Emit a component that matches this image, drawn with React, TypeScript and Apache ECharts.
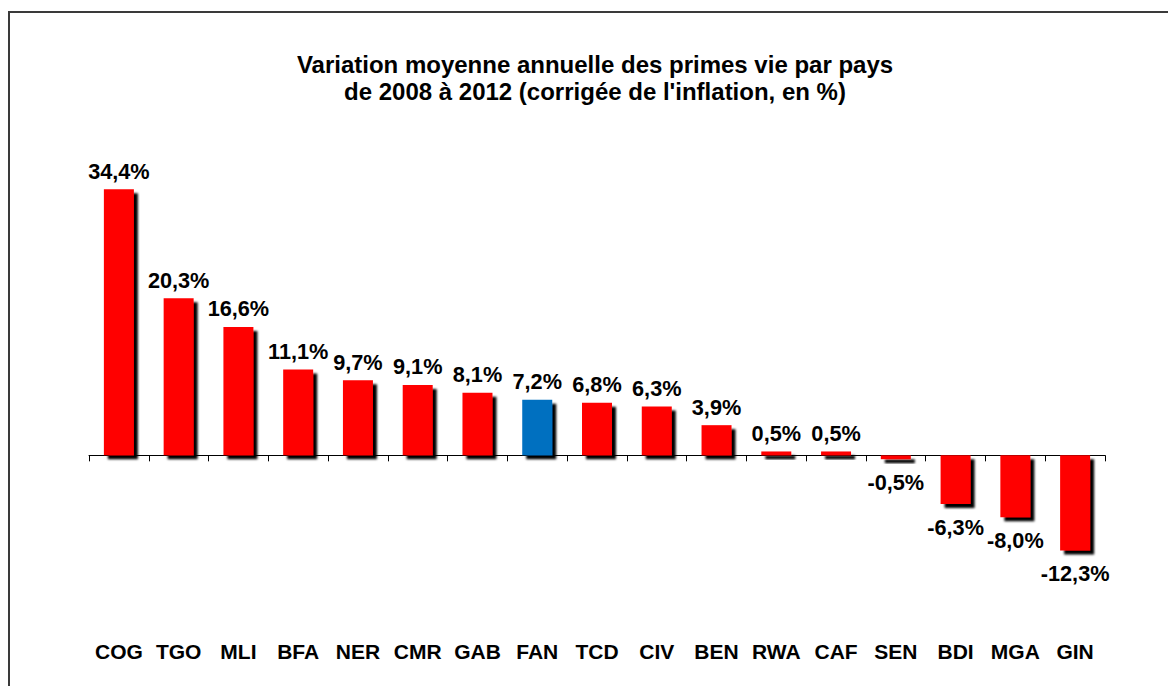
import React, { useEffect, useRef } from "react";
import * as echarts from "echarts";

const categories = ["COG", "TGO", "MLI", "BFA", "NER", "CMR", "GAB", "FAN", "TCD", "CIV", "BEN", "RWA", "CAF", "SEN", "BDI", "MGA", "GIN"];
const values = [34.4, 20.3, 16.6, 11.1, 9.7, 9.1, 8.1, 7.2, 6.8, 6.3, 3.9, 0.5, 0.5, -0.5, -6.3, -8.0, -12.3];
const highlighted = ["FAN"];
const titleLines = ["Variation moyenne annuelle des primes vie par pays", "de 2008 à 2012 (corrigée de l'inflation, en %)"];

const FONT = 'Arial, "Liberation Sans", sans-serif';

export default function App() {
  const ref = useRef<HTMLDivElement>(null);
  useEffect(() => {
    if (!ref.current) return;
    const chart = echarts.init(ref.current, null, { renderer: "svg" });
    const data = values.map((v, i) => ({
      value: v,
      itemStyle: { color: highlighted.includes(categories[i]) ? "#0070C0" : "#FF0000" },
      label: v < 0 ? { position: "bottom", distance: 12 } : { position: "top", distance: 7 },
    }));
    chart.setOption({
      animation: false,
      backgroundColor: "#ffffff",
      title: {
        text: titleLines.join("\n"),
        left: 595,
        top: 51,
        textAlign: "center",
        padding: 0,
        textStyle: { fontFamily: FONT, fontSize: 24, fontWeight: "bold", color: "#000", lineHeight: 27 },
      },
      graphic: [
        {
          type: "rect",
          shape: { x: 9, y: 12, width: 1200, height: 700 },
          style: { fill: "none", stroke: "#3a3a3a", lineWidth: 2 },
          silent: true,
        },
      ],
      grid: { left: 89, right: 63, top: 146, bottom: 76, containLabel: false },
      xAxis: [
        {
          type: "category",
          data: categories,
          position: "bottom",
          axisLine: { onZero: true, lineStyle: { color: "#000", width: 1 } },
          axisTick: { show: true, length: 6, lineStyle: { color: "#000" } },
          axisLabel: { show: false },
          splitLine: { show: false },
        },
        {
          type: "category",
          data: categories,
          position: "bottom",
          axisLine: { show: false, onZero: false },
          axisTick: { show: false },
          axisLabel: { show: true, margin: 31, fontFamily: FONT, fontSize: 21, fontWeight: "bold", color: "#000", interval: 0 },
          splitLine: { show: false },
        },
      ],
      yAxis: {
        type: "value",
        min: -20,
        max: 40,
        interval: 10,
        show: false,
        splitLine: { show: false },
      },
      series: [
        {
          type: "bar",
          xAxisIndex: 0,
          data,
          barWidth: 30,
          itemStyle: {
            shadowColor: "rgba(0,0,0,1)",
            shadowBlur: 2,
            shadowOffsetX: 4,
            shadowOffsetY: 4,
          },
          label: {
            show: true,
            fontFamily: FONT,
            fontSize: 21.7,
            fontWeight: "bold",
            color: "#000",
            formatter: (p: any) => p.value.toFixed(1).replace(".", ",") + "%",
          },
        },
      ],
    });
    return () => chart.dispose();
  }, []);
  return <div ref={ref} style={{ position: "fixed", left: 0, top: 0, width: 1168, height: 686 }} />;
}
